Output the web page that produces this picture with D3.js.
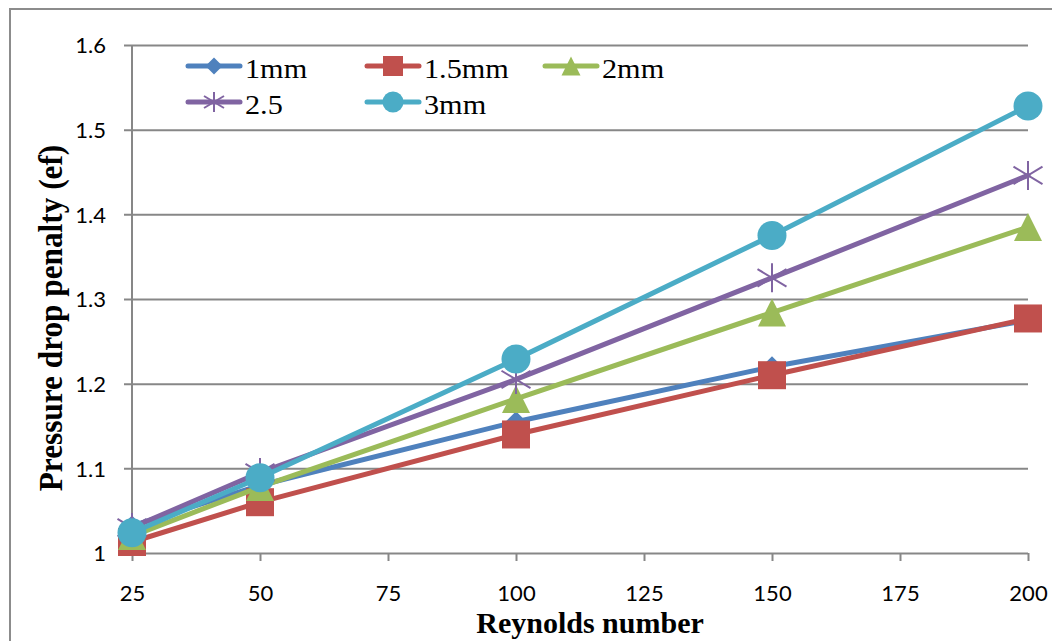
<!DOCTYPE html>
<html>
<head>
<meta charset="utf-8">
<script src="https://cdn.jsdelivr.net/npm/d3@7"></script>
<style>
   body { margin: 0; background: #fff; }
   .tick-label { font-family: 'Lato', 'Open Sans', sans-serif; font-size: 22px; fill: #000; }
   .axis-title { font-family: 'Liberation Serif', 'Times New Roman', serif; font-weight: bold; fill: #000; }
   .legend-text { font-family: 'Liberation Serif', 'Times New Roman', serif; fill: #000; }
</style>
</head>
<body>
<svg id="chart"></svg>
<script>
// ~~~~~~~~~ data ~~~~~~~~~
var reynolds = [25, 50, 100, 150, 200];
var seriesNames = ["1mm", "1.5mm", "2mm", "2.5", "3mm"];
var values1mm   = [1.032, 1.080, 1.155, 1.220, 1.275];
var values15mm  = [1.013, 1.060, 1.140, 1.210, 1.277];
var values2mm   = [1.020, 1.078, 1.182, 1.284, 1.385];
var values25    = [1.030, 1.095, 1.205, 1.325, 1.446];
var values3mm   = [1.024, 1.089, 1.229, 1.375, 1.528];
var xTicks = [25, 50, 75, 100, 125, 150, 175, 200];
var yTicks = [1, 1.1, 1.2, 1.3, 1.4, 1.5, 1.6];

var allValues = [values1mm, values15mm, values2mm, values25, values3mm];
var colors = ["#4F81BD", "#C0504D", "#9BBB59", "#8064A2", "#4BACC6"];
var shapes = ["diamond", "square", "triangle", "star", "circle"];

// ~~~~~~~~~ SVG setup ~~~~~~~~~
var svgWidth = 1052, svgHeight = 641;
var svg = d3.select("#chart").attr("width", svgWidth).attr("height", svgHeight);

var gridColor = "#878787";

// outer chart frame (runs off the right and bottom edge)
svg.append("rect")
   .attr("x", 10).attr("y", 9)
   .attr("width", 1100).attr("height", 700)
   .attr("fill", "none")
   .attr("stroke", "#8c8c8c")
   .attr("stroke-width", 2);

var x_scale = d3.scaleLinear().domain([25, 200]).range([132, 1028]);
var y_scale = d3.scaleLinear().domain([1, 1.6]).range([553, 45]);

// horizontal gridlines (left end doubles as y tick)
var yAxis = svg.append("g").attr("class", "y-axis").attr("transform", "translate(132,0)");
yAxis.call(
      d3.axisLeft(y_scale)
        .tickValues(yTicks)
        .tickSizeOuter(0)
        .tickFormat(d3.format("~g"))
   )
   .call(g => g.select(".domain").remove());
yAxis.selectAll(".tick line")
   .attr("x1", -8).attr("x2", 1028 - 132)
   .attr("stroke", gridColor).attr("stroke-width", 2);
yAxis.selectAll(".tick text")
   .attr("class", "tick-label")
   .attr("x", -26)
   .attr("dy", "0.36em")
   .attr("text-anchor", "end");

// vertical axis line
svg.append("line")
   .attr("x1", 132).attr("x2", 132)
   .attr("y1", y_scale(1.6)).attr("y2", y_scale(1))
   .attr("stroke", gridColor).attr("stroke-width", 2);

// x axis with downward ticks
var xAxis = svg.append("g").attr("class", "x-axis").attr("transform", "translate(0," + y_scale(1) + ")");
xAxis.call(
      d3.axisBottom(x_scale)
        .tickValues(xTicks)
        .tickSizeInner(8)
        .tickSizeOuter(0)
        .tickPadding(38)
   )
   .call(g => g.select(".domain").remove());
xAxis.selectAll(".tick line").attr("stroke", gridColor).attr("stroke-width", 2);
xAxis.selectAll(".tick text").attr("class", "tick-label").attr("dy", "0.1em");

// ~~~~~~~~~ marker shapes ~~~~~~~~~
function drawMarker(g, shape, cx, cy, size, color) {
   var h = size / 2;
   if (shape === "diamond") {
      g.append("path")
         .attr("d", "M" + cx + "," + (cy - h) + "L" + (cx + h) + "," + cy + "L" + cx + "," + (cy + h) + "L" + (cx - h) + "," + cy + "Z")
         .attr("fill", color);
   } else if (shape === "square") {
      g.append("rect").attr("x", cx - h).attr("y", cy - h).attr("width", size).attr("height", size).attr("fill", color);
   } else if (shape === "triangle") {
      g.append("path")
         .attr("d", "M" + cx + "," + (cy - h) + "L" + (cx + h) + "," + (cy + h) + "L" + (cx - h) + "," + (cy + h) + "Z")
         .attr("fill", color);
   } else if (shape === "circle") {
      g.append("circle").attr("cx", cx).attr("cy", cy).attr("r", h).attr("fill", color);
   } else if (shape === "star") {
      // asterisk: a vertical bar and an X
      var d = "M" + cx + "," + (cy - h) + "L" + cx + "," + (cy + h) +
              "M" + (cx - h) + "," + (cy - h * 0.6) + "L" + (cx + h) + "," + (cy + h * 0.6) +
              "M" + (cx - h) + "," + (cy + h * 0.6) + "L" + (cx + h) + "," + (cy - h * 0.6);
      g.append("path").attr("d", d).attr("stroke", color).attr("stroke-width", 2).attr("fill", "none");
   }
}

var markerSizes = { diamond: 21, square: 28, triangle: 28, circle: 29, star: 29 };
var legendSizes = { diamond: 17, square: 20, triangle: 19, circle: 21, star: 20 };

// ~~~~~~~~~ series ~~~~~~~~~
var line = d3.line()
   .x(function(d){ return x_scale(d[0]); })
   .y(function(d){ return y_scale(d[1]); });

var seriesGroup = svg.append("g").attr("class", "series");
allValues.forEach(function(vals, i){
   var pts = reynolds.map(function(r, j){ return [r, vals[j]]; });
   var g = seriesGroup.append("g");
   g.append("path")
      .attr("d", line(pts))
      .attr("fill", "none")
      .attr("stroke", colors[i])
      .attr("stroke-width", 5)
      .attr("stroke-linejoin", "round")
      .attr("stroke-linecap", "round");
   pts.forEach(function(p){
      drawMarker(g, shapes[i], x_scale(p[0]), y_scale(p[1]), markerSizes[shapes[i]], colors[i]);
   });
});

// ~~~~~~~~~ legend ~~~~~~~~~
var legendPos = [[186, 66], [365, 66], [543, 66], [186, 102], [365, 102]];
var legend = svg.append("g").attr("class", "legend");
seriesNames.forEach(function(name, i){
   var lx = legendPos[i][0], ly = legendPos[i][1];
   legend.append("line")
      .attr("x1", lx + 2).attr("x2", lx + 54)
      .attr("y1", ly).attr("y2", ly)
      .attr("stroke", colors[i]).attr("stroke-width", 5)
      .attr("stroke-linecap", "round");
   drawMarker(legend, shapes[i], lx + 28, ly, legendSizes[shapes[i]], colors[i]);
   legend.append("text")
      .attr("class", "legend-text")
      .attr("transform", "translate(" + (lx + 59) + "," + (ly + 12) + ") scale(1.12,1)")
      .style("font-size", "27px")
      .text(name);
});

// ~~~~~~~~~ axis titles ~~~~~~~~~
svg.append("text")
   .attr("class", "axis-title")
   .attr("transform", "translate(590,633) scale(1.0,1)")
   .attr("text-anchor", "middle")
   .style("font-size", "30px")
   .text("Reynolds number");

svg.append("text")
   .attr("class", "axis-title")
   .attr("transform", "translate(62,318) rotate(-90) scale(0.92,1)")
   .attr("text-anchor", "middle")
   .style("font-size", "34px")
   .text("Pressure drop penalty (ef)");
</script>
</body>
</html>
